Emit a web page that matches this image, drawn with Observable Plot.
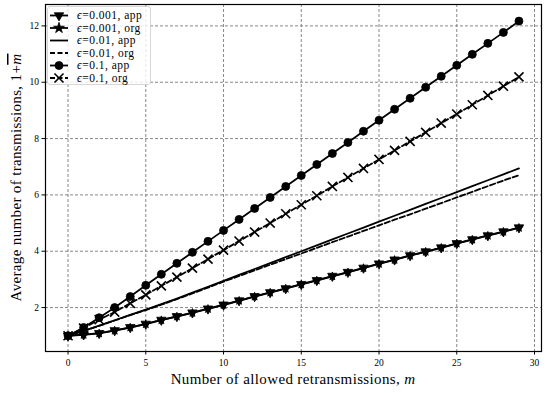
<!DOCTYPE html>
<html>
<head>
<meta charset="utf-8">
<script src="https://cdn.jsdelivr.net/npm/d3@7"></script>
<script src="https://cdn.jsdelivr.net/npm/@observablehq/plot@0.6"></script>
<style>
  html, body { margin: 0; padding: 0; background: #fff; }
  #chart { position: relative; width: 550px; height: 393px; }
</style>
</head>
<body>
<div id="chart"></div>
<script>
// ---- data ----
const mValues = [0,1,2,3,4,5,6,7,8,9,10,11,12,13,14,15,16,17,18,19,20,21,22,23,24,25,26,27,28,29];
const eps001App = [1.00,1.04,1.09,1.19,1.30,1.42,1.56,1.69,1.82,1.96,2.10,2.25,2.40,2.54,2.68,2.83,2.97,3.12,3.26,3.41,3.56,3.70,3.85,3.99,4.13,4.28,4.42,4.56,4.70,4.84];
const eps001Org = [1.00,1.03,1.08,1.18,1.29,1.41,1.55,1.68,1.81,1.95,2.09,2.24,2.39,2.53,2.67,2.82,2.96,3.11,3.25,3.40,3.55,3.69,3.84,3.98,4.12,4.27,4.41,4.55,4.69,4.83];
const eps01App = [1.00,1.17,1.36,1.55,1.74,1.93,2.12,2.32,2.53,2.74,2.95,3.16,3.37,3.58,3.79,4.00,4.21,4.42,4.63,4.84,5.05,5.26,5.47,5.68,5.89,6.10,6.31,6.52,6.73,6.94];
const eps01Org = [1.00,1.17,1.35,1.54,1.73,1.91,2.10,2.30,2.50,2.71,2.92,3.12,3.32,3.52,3.72,3.92,4.12,4.32,4.52,4.72,4.92,5.12,5.31,5.51,5.71,5.91,6.11,6.31,6.51,6.70];
const eps1App = [1.00,1.29,1.64,2.00,2.39,2.79,3.18,3.57,3.96,4.35,4.74,5.13,5.52,5.91,6.30,6.69,7.08,7.47,7.86,8.26,8.65,9.04,9.43,9.82,10.21,10.60,10.99,11.38,11.77,12.17];
const eps1Org = [1.00,1.27,1.57,1.84,2.15,2.45,2.77,3.08,3.40,3.72,4.04,4.36,4.68,5.00,5.33,5.65,5.97,6.30,6.62,6.94,7.26,7.58,7.90,8.22,8.55,8.87,9.20,9.53,9.86,10.19];
const seriesLabels = ["ϵ=0.001, app","ϵ=0.001, org","ϵ=0.01, app","ϵ=0.01, org","ϵ=0.1, app","ϵ=0.1, org"];
const xTicks = [0,5,10,15,20,25,30];
const yTicks = [2,4,6,8,10,12];
const xLabel = "Number of allowed retransmissions, ";
const yLabel = "Average number of transmissions, 1+";

// ---- series styles ----
const seriesValues = [eps001App, eps001Org, eps01App, eps01Org, eps1App, eps1Org];
const styles = [
  {dash: null, symbol: "triangle", rotate: 180, r: 3.5, fill: "black"},
  {dash: null, symbol: "star", rotate: 0, r: 2.6, fill: "black"},
  {dash: null, symbol: null},
  {dash: "5.5,2.5", symbol: null},
  {dash: null, symbol: "circle", rotate: 0, r: 4.0, fill: "black"},
  {dash: "5.5,2.5", symbol: "times", rotate: 0, r: 4.2, fill: "none"}
];
const tables = seriesValues.map(vals => mValues.map((m, i) => ({m, v: vals[i]})));

const FONT = "'Liberation Serif', 'DejaVu Serif', serif";
const W = 550, H = 393;
const margin = {left: 45, right: 9, top: 4, bottom: 42};

const marks = [
  Plot.gridX(xTicks, {stroke: "#7a7a7a", strokeOpacity: 1, strokeWidth: 0.9, strokeDasharray: "3,2"}),
  Plot.gridY(yTicks, {stroke: "#7a7a7a", strokeOpacity: 1, strokeWidth: 0.9, strokeDasharray: "3,2"}),
  Plot.axisX(xTicks, {tickSize: 3.5, tickPadding: 4, fontSize: 9.5, label: null, tickFormat: d => d}),
  Plot.axisY(yTicks, {tickSize: 3.5, tickPadding: 3, fontSize: 9.5, label: null, tickFormat: d => d})
];
tables.forEach((tbl, i) => {
  const s = styles[i];
  marks.push(Plot.line(tbl, {x: "m", y: "v", stroke: "black", strokeWidth: 1.8,
    strokeDasharray: s.dash || undefined}));
  if (s.symbol) {
    marks.push(Plot.dot(tbl, {x: "m", y: "v", symbol: () => s.symbol, r: s.r, rotate: s.rotate,
      fill: s.fill === "none" ? "none" : "black", stroke: "black",
      strokeWidth: s.symbol === "times" ? 1.6 : 0.8}));
  }
});
marks.push(Plot.frame({stroke: "black", strokeWidth: 1.2}));

const chart = Plot.plot({
  width: W, height: H,
  marginLeft: margin.left, marginRight: margin.right, marginTop: margin.top, marginBottom: margin.bottom,
  style: {fontFamily: FONT, background: "white", color: "black"},
  x: {domain: [-1.45, 30.45]},
  y: {domain: [0.44, 12.76]},
  symbol: {type: "identity"},
  marks
});
document.getElementById("chart").appendChild(chart);

// ---- axis labels and legend, appended to the same SVG ----
const svg = d3.select(chart);
const plotL = margin.left, plotR = W - margin.right, plotT = margin.top, plotB = H - margin.bottom;

const xl = svg.append("text")
  .attr("x", (plotL + plotR) / 2).attr("y", 384)
  .attr("text-anchor", "middle").attr("letter-spacing", 0.35)
  .attr("font-family", FONT).attr("font-size", 15).attr("fill", "black");
xl.append("tspan").text(xLabel);
xl.append("tspan").attr("font-style", "italic").text("m");

const yl = svg.append("text")
  .attr("transform", `translate(21,${(plotT + plotB) / 2}) rotate(-90)`)
  .attr("text-anchor", "middle").attr("letter-spacing", 0.35)
  .attr("font-family", FONT).attr("font-size", 15).attr("fill", "black");
yl.append("tspan").text(yLabel);
yl.append("tspan").attr("font-style", "italic").attr("text-decoration", "overline").text("m");

// legend
const lg = svg.append("g").attr("text-anchor", "start");
lg.append("rect").attr("x", 47.5).attr("y", 6.5).attr("width", 103).attr("height", 78)
  .attr("rx", 2.5).attr("fill", "white").attr("fill-opacity", 0.8)
  .attr("stroke", "#cccccc").attr("stroke-width", 0.8);
const rowY = [15.5, 28, 40.5, 53, 65.5, 78];
const symMap = {triangle: d3.symbolTriangle, star: d3.symbolStar, circle: d3.symbolCircle, times: d3.symbolTimes};
seriesLabels.forEach((lab, i) => {
  const s = styles[i];
  const y = rowY[i];
  lg.append("line").attr("x1", 50).attr("x2", 68).attr("y1", y).attr("y2", y)
    .attr("stroke", "black").attr("stroke-width", 1.8)
    .attr("stroke-dasharray", s.dash ? "5,2.5" : null);
  if (s.symbol) {
    const rr = s.symbol === "star" ? 3.4 : s.r;
    lg.append("path")
      .attr("d", d3.symbol(symMap[s.symbol], Math.PI * rr * rr)())
      .attr("transform", `translate(59,${y}) rotate(${s.rotate || 0})`)
      .attr("fill", s.fill === "none" ? "none" : "black").attr("stroke", "black")
      .attr("stroke-width", s.symbol === "times" ? 1.6 : 0.8);
  }
  const t = lg.append("text").attr("x", 77).attr("y", y + 3.8).attr("text-anchor", "start")
    .attr("letter-spacing", 0.5)
    .attr("font-family", FONT).attr("font-size", 11.5).attr("fill", "black");
  t.append("tspan").attr("font-style", "italic").text(lab.slice(0, 1));
  t.append("tspan").text(lab.slice(1));
});
</script>
</body>
</html>
